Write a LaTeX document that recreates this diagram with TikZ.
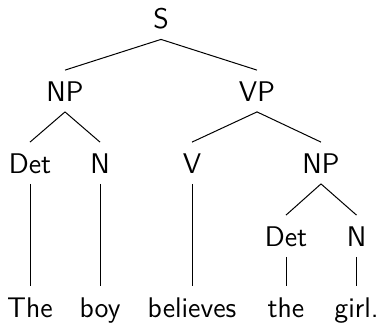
\documentclass[tikz,border=0pt]{standalone}
\begin{document}
\begin{tikzpicture}[x=0.5pt,y=-0.5pt,
  cat/.style={anchor=base, font=\sffamily\fontsize{14.2}{17}\selectfont,
    text height=10pt, text depth=0pt, inner xsep=0pt, inner ysep=5.25pt},
  edge/.style={line width=0.5pt}]
\useasboundingbox (0,0) rectangle (380,323);
% categories
\node[cat] (s)    at (161,28.5) {S};
\node[cat] (np1)  at (65,101)   {NP};
\node[cat] (vp)   at (257,101)  {VP};
\node[cat] (det1) at (30,173)   {Det};
\node[cat] (n1)   at (100,173)  {N};
\node[cat] (v)    at (192,173)  {V};
\node[cat] (np2)  at (321,173)  {NP};
\node[cat] (det2) at (286,246)  {Det};
\node[cat] (n2)   at (356.5,246){N};
% words
\node[cat] (w1) at (30,317)    {The};
\node[cat] (w2) at (100,317)   {boy};
\node[cat] (w3) at (192,317)   {believes};
\node[cat] (w4) at (286,317)   {the};
\node[cat] (w5) at (356.5,317) {girl.};
% branches
\draw[edge] (s.south) -- (np1.north);
\draw[edge] (s.south) -- (vp.north);
\draw[edge] (np1.south) -- (det1.north);
\draw[edge] (np1.south) -- (n1.north);
\draw[edge] (vp.south) -- (v.north);
\draw[edge] (vp.south) -- (np2.north);
\draw[edge] (np2.south) -- (det2.north);
\draw[edge] (np2.south) -- (n2.north);
\draw[edge] (det1.south) -- (w1.north);
\draw[edge] (n1.south) -- (w2.north);
\draw[edge] (v.south) -- (w3.north);
\draw[edge] (det2.south) -- (w4.north);
\draw[edge] (n2.south) -- (w5.north);
\end{tikzpicture}
\end{document}
